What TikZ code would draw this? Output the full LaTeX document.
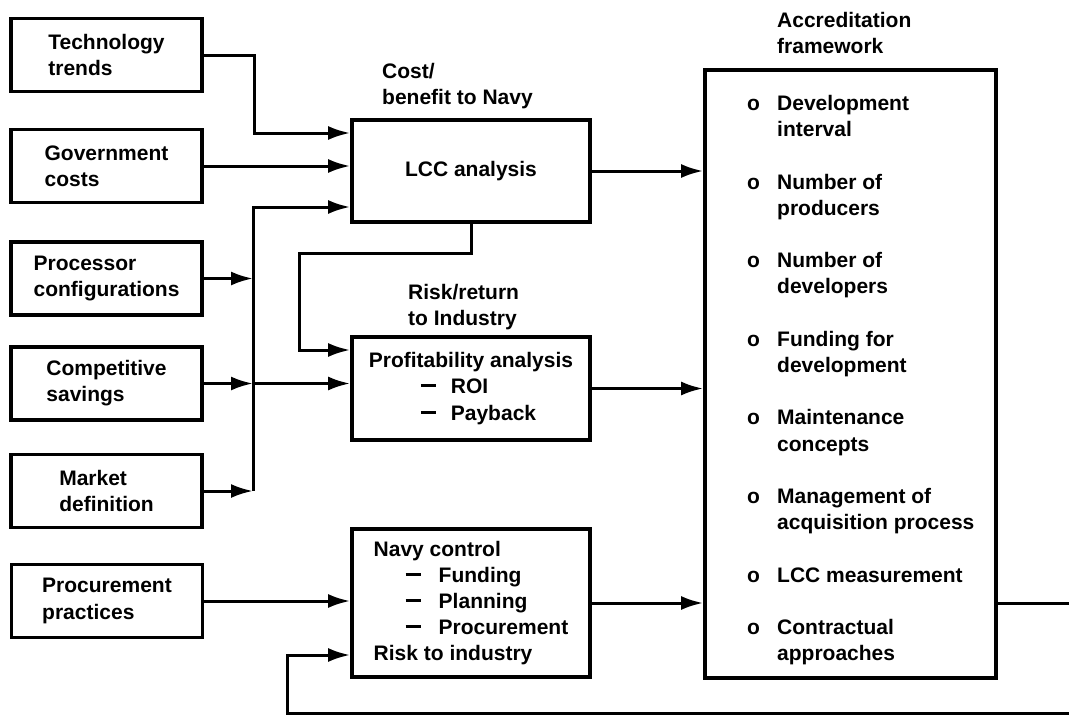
\documentclass[tikz,border=0pt]{standalone}
\usepackage{fontspec}
\setmainfont{Liberation Sans}
\usetikzlibrary{arrows.meta}
\newcommand{\dashmark}{\rule[6.5pt]{15pt}{3pt}}
\begin{document}
\begin{tikzpicture}[x=1pt,y=-1pt,
  every node/.style={font=\fontsize{21}{26.2}\selectfont\bfseries},
  box/.style={draw, line width=3.8pt, align=left, inner sep=0pt},
  srcbox/.style={box, minimum width=191pt, minimum height=73pt},
  midbox/.style={box, minimum width=238pt},
  textblock/.style={align=left, inner sep=0pt, anchor=north west},
  arr/.style={line width=3pt, -{Latex[length=22pt,width=14pt]}}]
\useasboundingbox (0,0) rectangle (1069,715);
\fill[white] (0,0) rectangle (1069,715);

% input boxes
\node[srcbox] (tech) at (106.5,55)  {Technology\\trends};
\node[srcbox] (gov)  at (106.5,166) {Government\\costs};
\node[srcbox] (proc) at (106.5,278.5) {Processor\\configurations};
\node[srcbox] (comp) at (106.5,383.5) {Competitive\\savings};
\node[srcbox] (mkt)  at (106.5,491) {Market\\definition};
\node[srcbox] (ppr)  at (107,601) {Procurement\\practices};

% analysis boxes
\node[midbox, minimum height=102pt] (lcc) at (471,171) {LCC analysis};
\node[midbox, minimum height=103pt] (profit) at (471,388.5)
  {Profitability analysis\\
   \hspace*{52pt}\makebox[30pt][l]{\dashmark}ROI\\
   \hspace*{52pt}\makebox[30pt][l]{\dashmark}Payback};
\node[midbox, minimum height=148pt] (navy) at (471,603)
  {Navy control\\
   \hspace*{32pt}\makebox[33pt][l]{\dashmark}Funding\\
   \hspace*{32pt}\makebox[33pt][l]{\dashmark}Planning\\
   \hspace*{32pt}\makebox[33pt][l]{\dashmark}Procurement\\
   Risk to industry};

% accreditation framework
\node[box, minimum width=291pt, minimum height=608pt] (accred) at (850.5,374) {};
\node[textblock] (acclist) at (747,95)
  {\makebox[30pt][l]{o}Development\\ \hspace*{30pt}interval\\[26.2pt]
   \makebox[30pt][l]{o}Number of\\ \hspace*{30pt}producers\\[26.2pt]
   \makebox[30pt][l]{o}Number of\\ \hspace*{30pt}developers\\[26.2pt]
   \makebox[30pt][l]{o}Funding for\\ \hspace*{30pt}development\\[26.2pt]
   \makebox[30pt][l]{o}Maintenance\\ \hspace*{30pt}concepts\\[26.2pt]
   \makebox[30pt][l]{o}Management of\\ \hspace*{30pt}acquisition process\\[26.2pt]
   \makebox[30pt][l]{o}LCC measurement\\[26.2pt]
   \makebox[30pt][l]{o}Contractual\\ \hspace*{30pt}approaches};

% captions
\node[textblock] (capcost) at (382,63)  {Cost/\\benefit to Navy};
\node[textblock] (caprisk) at (408,284) {Risk/return\\to Industry};
\node[textblock] (capacc)  at (777,12)  {Accreditation\\framework};

% routing points
\coordinate (tb) at (254,133);
\coordinate (bustop) at (253,207);
\coordinate (k1) at (471,253);
\coordinate (k2) at (299,253);
\coordinate (k3) at (299,350);
\coordinate (fr) at (1090,713);
\coordinate (fl) at (287,713);
\coordinate (fu) at (287,655);

% inputs to LCC analysis
\draw[arr] (tech.east) -| (tb) -- (tb -| lcc.west);
\draw[arr] (gov.east) -- (gov.east -| lcc.west);
\draw[arr] (mkt.east -| bustop) -- (bustop) -- (bustop -| lcc.west);
\draw[arr] (proc.east) -- (proc.east -| bustop);
\draw[arr] (comp.east) -- (comp.east -| bustop);
\draw[arr] (mkt.east) -- (mkt.east -| bustop);

% inputs to profitability analysis
\draw[arr] (comp.east -| bustop) -- (comp.east -| profit.west);
\draw[arr] (lcc.south) -- (k1) -- (k2) -- (k3) -- (k3 -| profit.west);

% inputs to Navy control
\draw[arr] (ppr.east) -- (ppr.east -| navy.west);

% outputs to the accreditation framework
\draw[arr] (lcc.east) -- (lcc.east -| accred.west);
\draw[arr] (profit.east) -- (profit.east -| accred.west);
\draw[arr] (navy.east) -- (navy.east -| accred.west);

% feedback loop
\draw[arr] (navy.east -| accred.east) -| (fr) -- (fl) -- (fu) -- (fu -| navy.west);
\end{tikzpicture}
\end{document}
